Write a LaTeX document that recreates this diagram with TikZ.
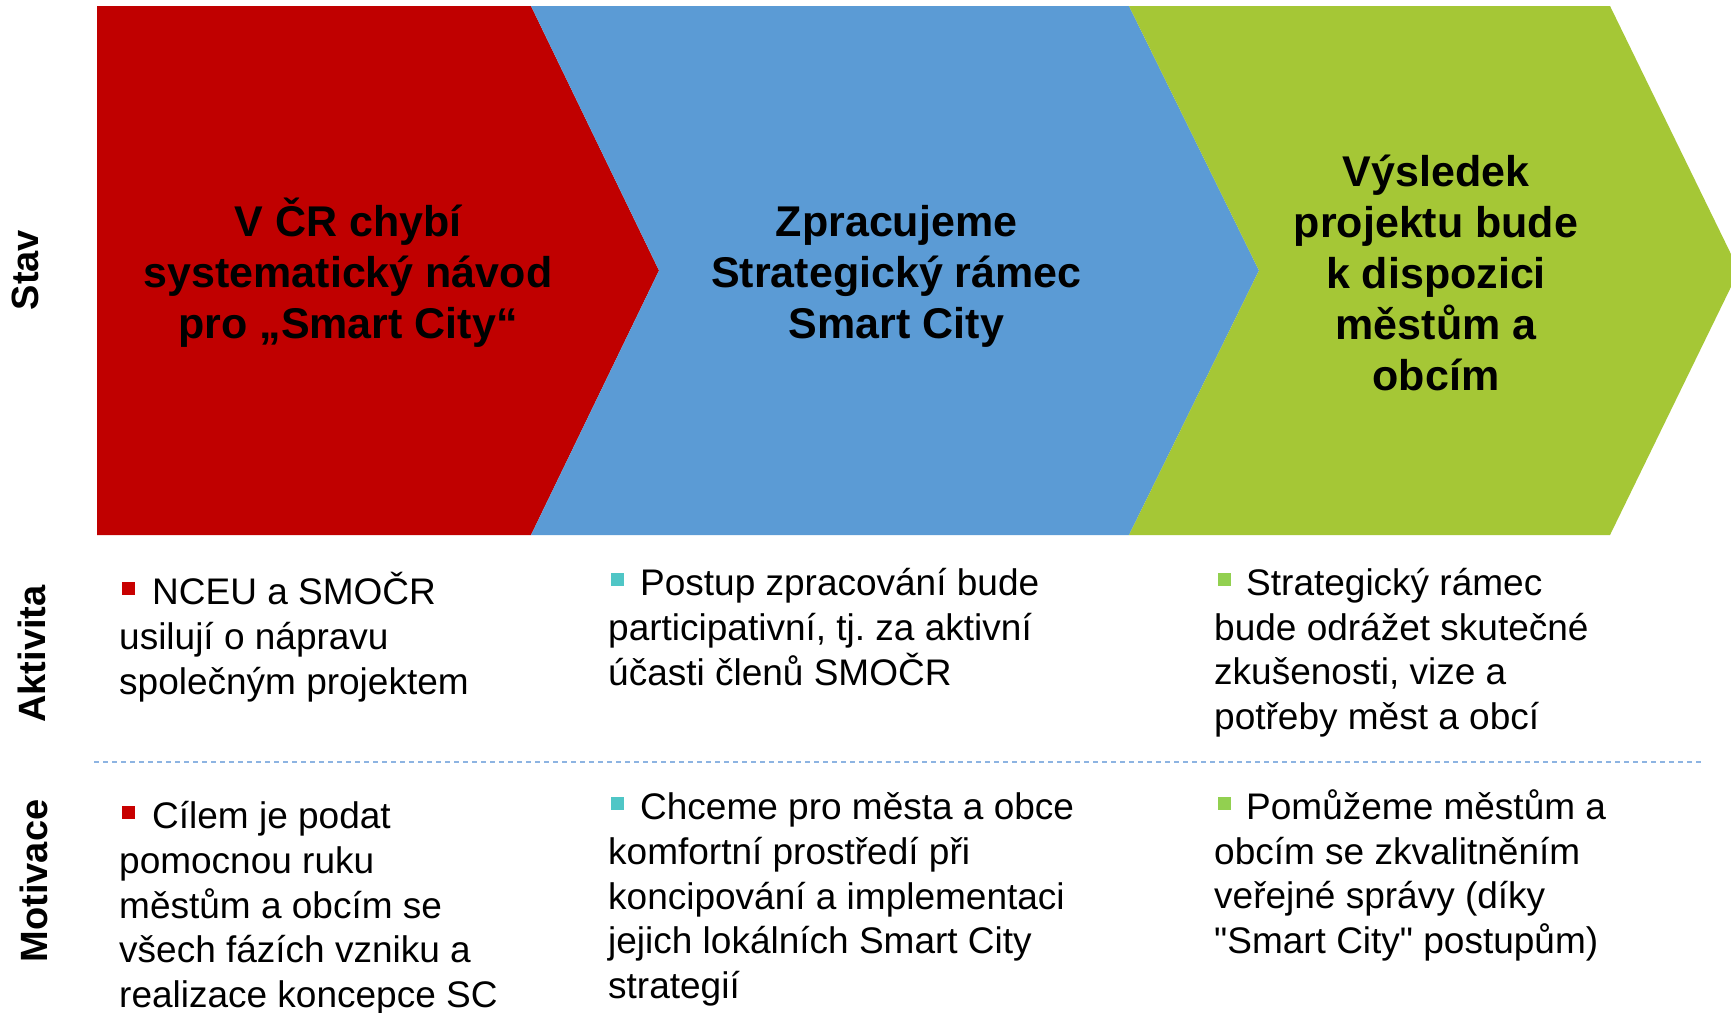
\documentclass[tikz,border=0pt]{standalone}
\usepackage{fontspec}
\setmainfont{Liberation Sans}[Ligatures=TeXOff]
\frenchspacing
\definecolor{chred}{HTML}{C00000}
\definecolor{chblue}{HTML}{5B9BD5}
\definecolor{chgreen}{HTML}{A5C736}
\definecolor{bred}{HTML}{C80000}
\definecolor{bteal}{HTML}{4FC6C6}
\definecolor{bgreen}{HTML}{92D050}
\definecolor{dashblue}{HTML}{8DB4E2}
\begin{document}
\begin{tikzpicture}[x=1pt,y=-1pt,
  title/.style={font=\bfseries\fontsize{43}{51}\selectfont, align=center, anchor=base, inner sep=0pt},
  body/.style={font=\fontsize{37}{44.7}\selectfont, align=left, anchor=base west, inner sep=0pt},
  rowlabel/.style={font=\bfseries\fontsize{38}{44}\selectfont, rotate=90, anchor=base, inner sep=0pt},
  bulletsq/.style={minimum size=13pt, inner sep=0pt, draw=none},
  dashline/.style={draw=dashblue, line width=1.7pt, dash pattern=on 5.3pt off 3.7pt}]
\useasboundingbox (0,0) rectangle (1731,1012);
\clip (0,0) rectangle (1731,1012);
\fill[white] (0,0) rectangle (1731,1012);
% chevrons
\fill[chred] (97,6) -- (531,6) -- (659,270.5) -- (531,535) -- (97,535) -- cycle;
\fill[chblue] (531,6) -- (1129,6) -- (1259,270.5) -- (1129,535) -- (531,535) -- (659,270.5) -- cycle;
\fill[chgreen] (1129,6) -- (1610,6) -- (1739,270.5) -- (1610,535) -- (1129,535) -- (1259,270.5) -- cycle;
% chevron titles (anchor = baseline of last line)
\node[title] (t1) at (348,338.5) {V ČR chybí\\systematický návod\\pro „Smart City“};
\node[title] (t2) at (896.5,338.5) {Zpracujeme\\Strategický rámec\\Smart City};
\node[title] (t3) at (1436,390) {Výsledek\\projektu bude\\k dispozici\\městům a\\obcím};
% row labels
\node[rowlabel] (lstav) at (38,270) {Stav};
\node[rowlabel] (lakt) at (45,654) {Aktivita};
\node[rowlabel] (lmot) at (47,881) {Motivace};
% dashed separator
\coordinate (dl) at (94,762);
\coordinate (dr) at (1704,762);
\draw[dashline] (dl) -- (dr);
% bullets
\node[bulletsq, fill=bred] (b1) at (128.5,588) {};
\node[bulletsq, fill=bteal] (b2) at (617,579.5) {};
\node[bulletsq, fill=bgreen] (b3) at (1224,579.5) {};
\node[bulletsq, fill=bred] (b4) at (128.5,812) {};
\node[bulletsq, fill=bteal] (b5) at (617,803.5) {};
\node[bulletsq, fill=bgreen] (b6) at (1224,803.5) {};
% texts (anchor = baseline of last line)
\node[body] (a1) at (119,694) {\hspace*{33pt}NCEU a SMOČR\\usilují o nápravu\\společným projektem};
\node[body] (a2) at (608,685) {\hspace*{32pt}Postup zpracování bude\\participativní, tj. za aktivní\\účasti členů SMOČR};
\node[body] (a3) at (1214,729.6) {\hspace*{32pt}Strategický rámec\\bude odrážet skutečné\\zkušenosti, vize a\\potřeby měst a obcí};
\node[body] (m1) at (119,1007.5) {\hspace*{33pt}Cílem je podat\\pomocnou ruku\\městům a obcím se\\všech fázích vzniku a\\realizace koncepce SC};
\node[body] (m2) at (608,998.5) {\hspace*{32pt}Chceme pro města a obce\\komfortní prostředí při\\koncipování a implementaci\\jejich lokálních Smart City\\strategií};
\node[body] (m3) at (1214,953.6) {\hspace*{32pt}Pomůžeme městům a\\obcím se zkvalitněním\\veřejné správy (díky\\"Smart City" postupům)};
\end{tikzpicture}
\end{document}
